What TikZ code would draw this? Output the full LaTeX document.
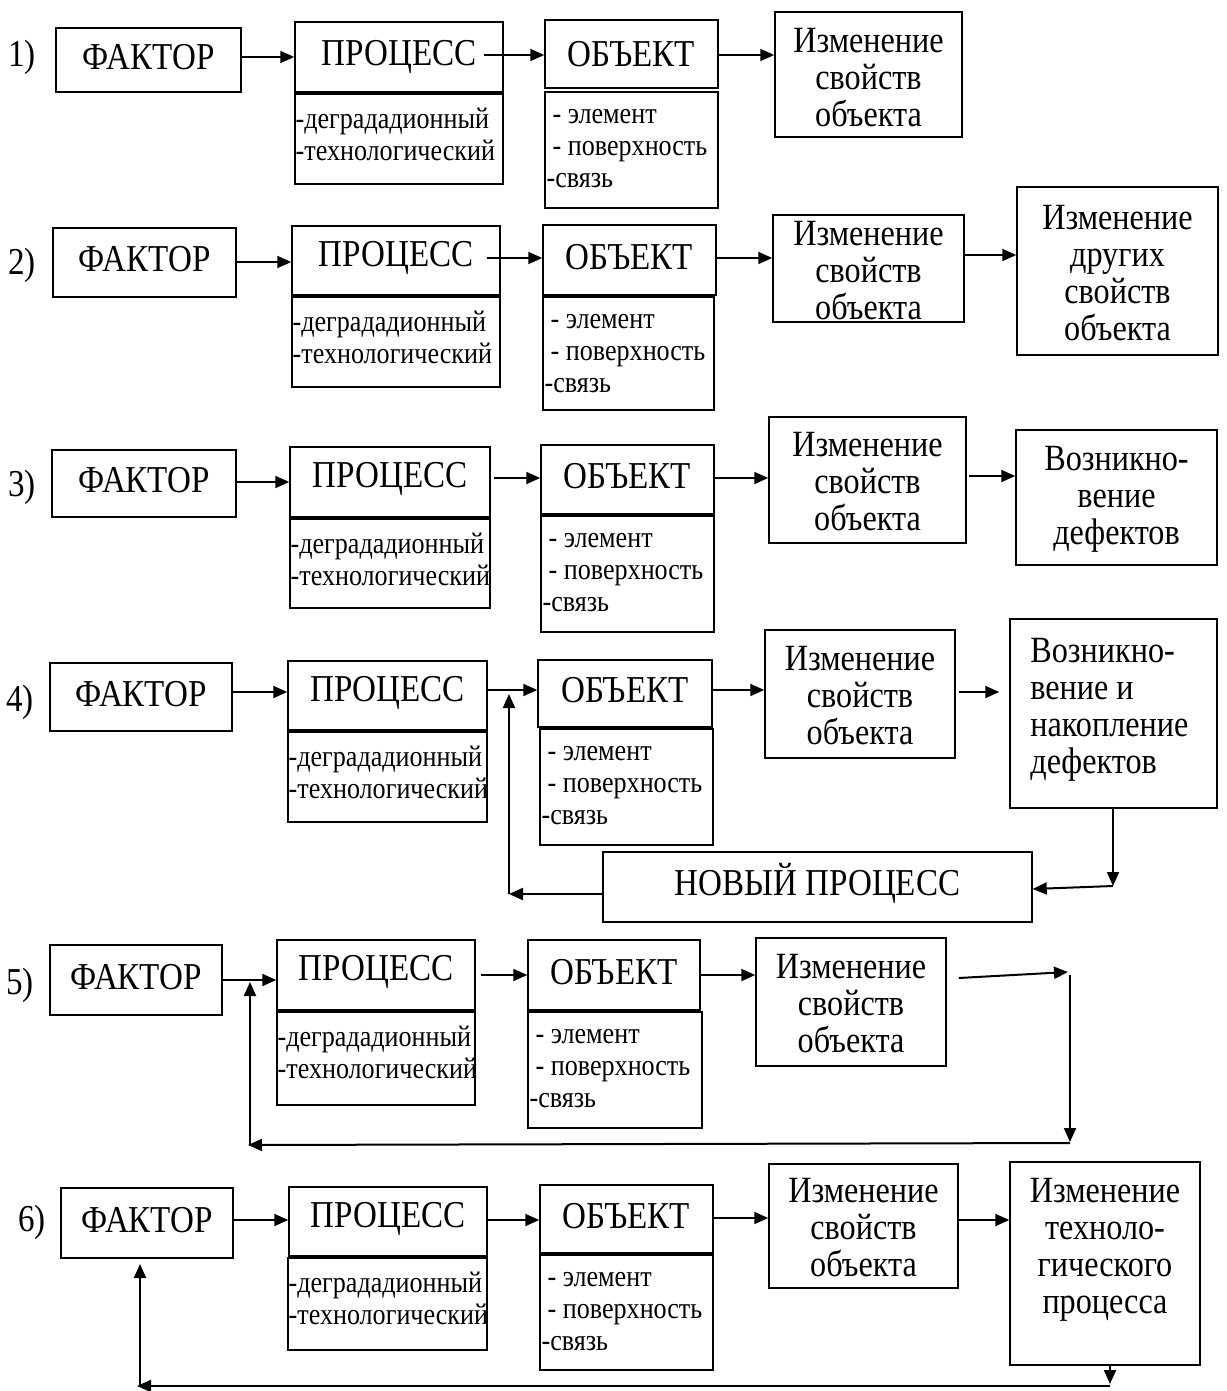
\documentclass[tikz,border=0pt]{standalone}
\usepackage{fontspec}
\setmainfont{Liberation Serif}[FakeStretch=0.87]
\usetikzlibrary{fit,arrows.meta}
\tikzset{
  bx/.style={draw, line width=0.75pt, inner sep=0pt},
  big/.style={font=\fontsize{19}{21}\selectfont, inner sep=0pt},
  med/.style={font=\fontsize{18.5}{18.5}\selectfont, align=center, inner sep=0pt},
  medl/.style={font=\fontsize{18.5}{18.5}\selectfont, align=left, inner sep=0pt, anchor=north west},
  sm/.style={font=\fontsize{15}{16}\selectfont, align=left, inner sep=0pt, anchor=north west},
  arr/.style={line width=1pt, -{Triangle[length=7pt,width=6pt]}},
}
\newcommand\bx[5]{\node[bx, fit={(#2,#3) (#4,#5)}] (#1) {};}
\newcommand\procsub[1]{\node[sm] (#1t) at ([xshift=0.5pt,yshift=-7pt]#1.north west) {-деградадионный\\-технологический};}
\newcommand\objsub[1]{\node[sm] (#1t) at ([xshift=1pt,yshift=-9pt]#1.north west) {\hspace*{3pt}- элемент\\\hspace*{3pt}- поверхность\\-связь};}
\begin{document}
\begin{tikzpicture}[x=0.5pt,y=-0.5pt]
\useasboundingbox (0,0) rectangle (1226,1391);
% ---------- Row 1
\node[big] (L1) at (22,57) {1)};
\bx{F1}{56}{28}{241}{92}
\bx{P1}{295}{22}{503}{92}
\bx{Ps1}{295}{94}{503}{184}
\bx{O1}{545}{20}{718}{88}
\bx{Os1}{545}{92}{718}{208}
\bx{I1}{775}{12}{962}{137}
\node[big] (tF1) at ([yshift=1.5pt]F1.center) {ФАКТОР};
\node[big] (tP1) at ([yshift=0pt]P1.center) {ПРОЦЕСС};
\node[big] (tO1) at ([yshift=0pt]O1.center) {ОБЪЕКТ};
\procsub{Ps1}
\objsub{Os1}
\node[med] (tI1) at ([yshift=-1.5pt]I1.center) {Изменение\\свойств\\объекта};
\draw[arr] (F1.east |- 0,57) -- (P1.west |- 0,57);
\draw[arr] ([xshift=-10pt]P1.east |- 0,55) -- (O1.west |- 0,55);
\draw[arr] (O1.east |- 0,55) -- (I1.west |- 0,55);
% ---------- Row 2
\node[big] (L2) at (22,265) {2)};
\bx{F2}{53}{228}{236}{297}
\bx{P2}{292}{226}{500}{295}
\bx{Ps2}{292}{297}{500}{387}
\bx{O2}{543}{225}{716}{295}
\bx{Os2}{543}{297}{714}{410}
\bx{I2}{773}{215}{964}{322}
\bx{D2}{1017}{187}{1218}{355}
\node[big] (tF2) at ([yshift=1.5pt]F2.center) {ФАКТОР};
\node[big] (tP2) at ([yshift=1.5pt]P2.center) {ПРОЦЕСС};
\node[big] (tO2) at ([yshift=1.5pt]O2.center) {ОБЪЕКТ};
\procsub{Ps2}
\objsub{Os2}
\node[med] (tI2) at ([yshift=-1pt]I2.center) {Изменение\\свойств\\объекта};
\node[med] (tD2) at ([yshift=-1pt]D2.center) {Изменение\\других\\свойств\\объекта};
\draw[arr] (F2.east |- 0,262) -- (P2.west |- 0,262);
\draw[arr] ([xshift=-7pt]P2.east |- 0,258) -- (O2.west |- 0,258);
\draw[arr] (O2.east |- 0,258) -- (I2.west |- 0,258);
\draw[arr] (I2.east |- 0,255) -- (D2.west |- 0,255);
% ---------- Row 3
\node[big] (L3) at (22,487) {3)};
\bx{F3}{52}{450}{236}{517}
\bx{P3}{290}{447}{490}{517}
\bx{Ps3}{290}{519}{490}{608}
\bx{O3}{541}{445}{714}{514}
\bx{Os3}{541}{516}{714}{632}
\bx{I3}{769}{417}{966}{543}
\bx{V3}{1016}{430}{1217}{565}
\node[big] (tF3) at ([yshift=1.5pt]F3.center) {ФАКТОР};
\node[big] (tP3) at ([yshift=1.5pt]P3.center) {ПРОЦЕСС};
\node[big] (tO3) at ([yshift=1.5pt]O3.center) {ОБЪЕКТ};
\procsub{Ps3}
\objsub{Os3}
\node[med] (tI3) at ([yshift=-1pt]I3.center) {Изменение\\свойств\\объекта};
\node[med] (tV3) at ([yshift=-1pt]V3.center) {Возникно-\\вение\\дефектов};
\draw[arr] (F3.east |- 0,482) -- (P3.west |- 0,482);
\draw[arr] ([xshift=1.5pt]P3.east |- 0,478) -- (O3.west |- 0,478);
\draw[arr] (O3.east |- 0,478) -- (I3.west |- 0,478);
\draw[arr] ([xshift=1pt]I3.east |- 0,476) -- (V3.west |- 0,476);
% ---------- Row 4
\node[big] (L4) at (20,702) {4)};
\bx{F4}{50}{663}{232}{731}
\bx{P4}{288}{661}{487}{730}
\bx{Ps4}{288}{732}{487}{822}
\bx{O4}{538}{660}{712}{727}
\bx{Os4}{540}{729}{713}{845}
\bx{I4}{765}{630}{955}{758}
\bx{V4}{1010}{619}{1217}{808}
\bx{N4}{603}{852}{1032}{922}
\node[big] (tF4) at ([yshift=1.5pt]F4.center) {ФАКТОР};
\node[big] (tP4) at ([yshift=1.5pt]P4.center) {ПРОЦЕСС};
\node[big] (tO4) at ([yshift=1.5pt]O4.center) {ОБЪЕКТ};
\procsub{Ps4}
\objsub{Os4}
\node[med] (tI4) at ([yshift=-1pt]I4.center) {Изменение\\свойств\\объекта};
\node[medl] (tV4) at (1030,638) {Возникно-\\вение и\\накопление\\дефектов};
\node[big] (tN4) at ([yshift=2pt]N4.center) {НОВЫЙ ПРОЦЕСС};
\draw[arr] (F4.east |- 0,692) -- (P4.west |- 0,692);
\draw[arr] ([xshift=-1pt]P4.east |- 0,690) -- (O4.west |- 0,690);
\draw[arr] (O4.east |- 0,690) -- (I4.west |- 0,690);
\draw[arr] ([xshift=1.5pt]I4.east |- 0,692) -- ([xshift=-5pt]V4.west |- 0,692);
\coordinate (c4a) at (1113,886);
\coordinate (c4b) at (509,894);
\draw[arr] (V4.south -| c4a) -- (c4a);
\draw[arr] (c4a) -- (N4.east |- 0,889);
\draw[arr] (N4.west |- 0,894) -- (c4b);
\draw[arr] (c4b) -- (c4b |- 0,694);
% ---------- Row 5
\node[big] (L5) at (20,985) {5)};
\bx{F5}{50}{945}{222}{1015}
\bx{P5}{277}{940}{475}{1010}
\bx{Ps5}{277}{1012}{475}{1105}
\bx{O5}{528}{940}{700}{1010}
\bx{Os5}{528}{1012}{702}{1128}
\bx{I5}{756}{938}{946}{1066}
\node[big] (tF5) at ([yshift=1.5pt]F5.center) {ФАКТОР};
\node[big] (tP5) at ([yshift=1.5pt]P5.center) {ПРОЦЕСС};
\node[big] (tO5) at ([yshift=1.5pt]O5.center) {ОБЪЕКТ};
\procsub{Ps5}
\objsub{Os5}
\node[med] (tI5) at ([yshift=-1pt]I5.center) {Изменение\\свойств\\объекта};
\draw[arr] (F5.east |- 0,980) -- (P5.west |- 0,980);
\draw[arr] ([xshift=2.5pt]P5.east |- 0,975) -- (O5.west |- 0,975);
\draw[arr] (O5.east |- 0,975) -- (I5.west |- 0,975);
\coordinate (c5a) at (1068,972);
\coordinate (c5b) at (1070,1142);
\coordinate (c5c) at (248,1145);
\coordinate (c5d) at (250,982);
\draw[arr] ([xshift=6pt]I5.east |- 0,978) -- (c5a);
\draw[arr] (1070,975) -- (c5b);
\draw[arr] (1070,1143) -- (c5c);
\draw[arr] (250,1145) -- (c5d);
% ---------- Row 6
\node[big] (L6) at (32,1222) {6)};
\bx{F6}{61}{1188}{233}{1258}
\bx{P6}{289}{1187}{487}{1256}
\bx{Ps6}{288}{1258}{487}{1350}
\bx{O6}{540}{1185}{713}{1253}
\bx{Os6}{540}{1255}{713}{1370}
\bx{I6}{769}{1164}{958}{1288}
\bx{T6}{1010}{1162}{1200}{1365}
\node[big] (tF6) at ([yshift=1.5pt]F6.center) {ФАКТОР};
\node[big] (tP6) at ([yshift=1.5pt]P6.center) {ПРОЦЕСС};
\node[big] (tO6) at ([yshift=1.5pt]O6.center) {ОБЪЕКТ};
\procsub{Ps6}
\objsub{Os6}
\node[med] (tI6) at ([yshift=-1pt]I6.center) {Изменение\\свойств\\объекта};
\node[med,anchor=north] (tT6) at (1105,1178) {Изменение\\техноло-\\гического\\процесса};
\draw[arr] (F6.east |- 0,1220) -- (P6.west |- 0,1220);
\draw[arr] (P6.east |- 0,1220) -- (O6.west |- 0,1220);
\draw[arr] (O6.east |- 0,1218) -- (I6.west |- 0,1218);
\draw[arr] (I6.east |- 0,1220) -- (T6.west |- 0,1220);
\coordinate (c6a) at (1110,1384);
\coordinate (c6b) at (137,1386);
\coordinate (c6c) at (140,1264);
\draw[arr] (T6.south -| c6a) -- (c6a);
\draw[arr] (1110,1386) -- (c6b);
\draw[arr] (140,1386) -- (c6c);
\end{tikzpicture}
\end{document}
